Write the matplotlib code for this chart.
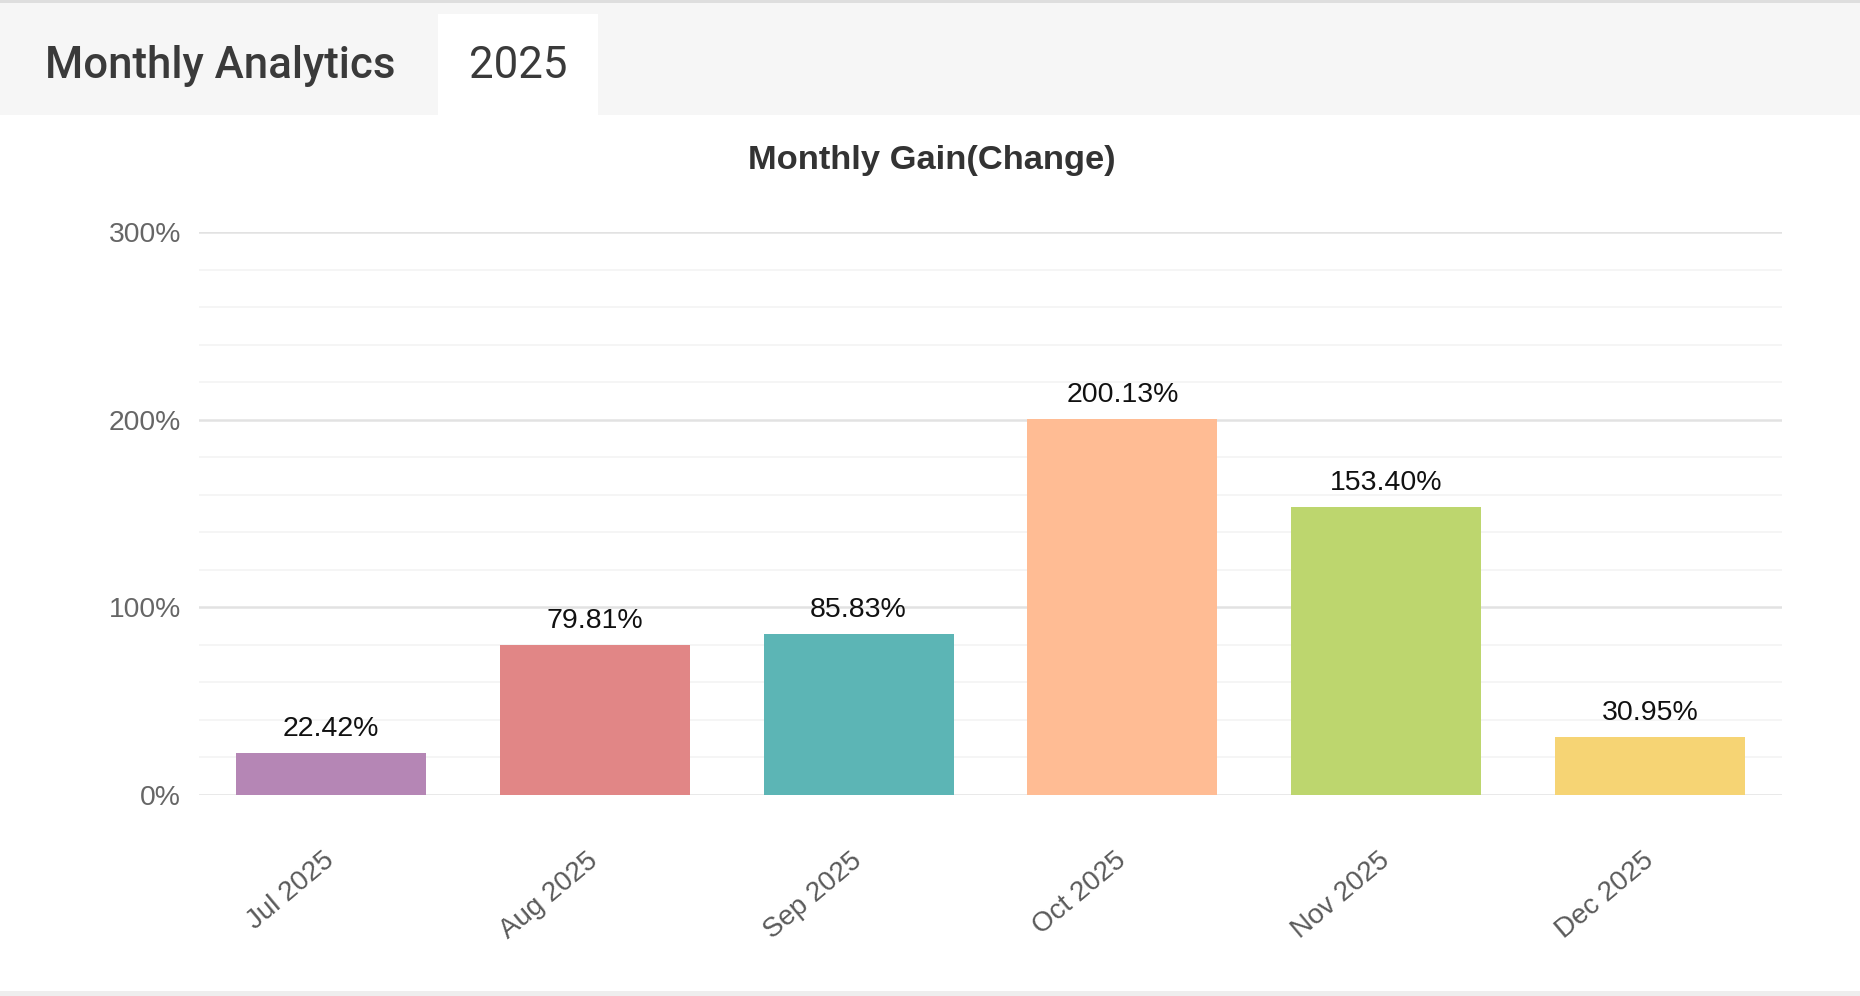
import matplotlib
matplotlib.use('Agg')
import matplotlib.pyplot as plt
from matplotlib.patches import Rectangle
from matplotlib.ticker import MultipleLocator, FuncFormatter

# Chart data
months = ['Jul 2025', 'Aug 2025', 'Sep 2025', 'Oct 2025', 'Nov 2025', 'Dec 2025']
gains = [22.42, 79.81, 85.83, 200.13, 153.40, 30.95]
bar_colors = ['#b586b5', '#e18686', '#5cb5b5', '#ffbc94', '#bdd66e', '#f6d474']

header_title = 'Monthly Analytics'
header_tab = '2025'
chart_title = 'Monthly Gain(Change)'

W, H = 1860, 996
fig = plt.figure(figsize=(W / 100, H / 100), dpi=100)
fig.set_facecolor('white')

# header band and the active tab
fig.patches.append(Rectangle((0, 1 - 115 / H), 1, 112 / H, transform=fig.transFigure,
                             facecolor='#f6f6f6', edgecolor='none', zorder=0))
fig.patches.append(Rectangle((438 / W, 1 - 115 / H), 160 / W, 101 / H, transform=fig.transFigure,
                             facecolor='white', edgecolor='none', zorder=1))
fig.patches.append(Rectangle((0, 1 - 3 / H), 1, 3 / H, transform=fig.transFigure,
                             facecolor='#dedede', edgecolor='none', zorder=1))
fig.patches.append(Rectangle((0, 0), 1, 5 / H, transform=fig.transFigure,
                             facecolor='#eeeeee', edgecolor='none', zorder=1))

fig.text(45 / W, 1 - 66 / H, header_title, fontsize=31.5, family='Roboto', fontweight='medium',
         color='#3a3a3a', va='center', ha='left')
fig.text(518 / W, 1 - 66 / H, header_tab, fontsize=31.5, family='Roboto', color='#3a3a3a',
         va='center', ha='center')
fig.text(932 / W, 1 - 161 / H, chart_title, fontsize=24.8, family='Liberation Sans',
         fontweight='bold', color='#333333', va='center', ha='center')

# plot area
ax = fig.add_axes([199 / W, 1 - 795 / H, (1782 - 199) / W, (795 - 232) / H])
x = range(len(months))
bars = ax.bar(x, gains, width=0.72, color=bar_colors, zorder=3)

ax.set_xlim(-0.5, len(months) - 0.5)
ax.set_ylim(0, 300)
ax.yaxis.set_major_locator(MultipleLocator(100))
ax.yaxis.set_minor_locator(MultipleLocator(20))
ax.yaxis.set_major_formatter(FuncFormatter(lambda v, p: f'{v:.0f}%'))
ax.grid(axis='y', which='major', color='#e2e2e2', linewidth=1.8, zorder=0)
ax.grid(axis='y', which='minor', color='#f3f3f3', linewidth=1.2, zorder=0)
ax.grid(axis='x', visible=False)
for s in ax.spines.values():
    s.set_visible(False)

ax.set_xticks(list(x))
ax.set_xticklabels(months, rotation=40, ha='right', va='center', rotation_mode='anchor',
                   fontsize=20, family='Liberation Sans', color='#5a5a5a')
ax.tick_params(axis='x', length=0, pad=45)
ax.tick_params(axis='y', which='both', length=0, pad=13, labelsize=20.3, labelcolor='#666666')
for lbl in ax.get_yticklabels():
    lbl.set_family('Liberation Sans')

# value labels above bars
for b, v in zip(bars, gains):
    ax.annotate(f'{v:.2f}%', (b.get_x() + b.get_width() / 2, v), xytext=(0, 8),
                textcoords='offset points', ha='center', va='bottom', fontsize=20.5,
                family='Liberation Sans', color='#111111', zorder=4)

plt.savefig('out.png', dpi=100, facecolor=fig.get_facecolor())
